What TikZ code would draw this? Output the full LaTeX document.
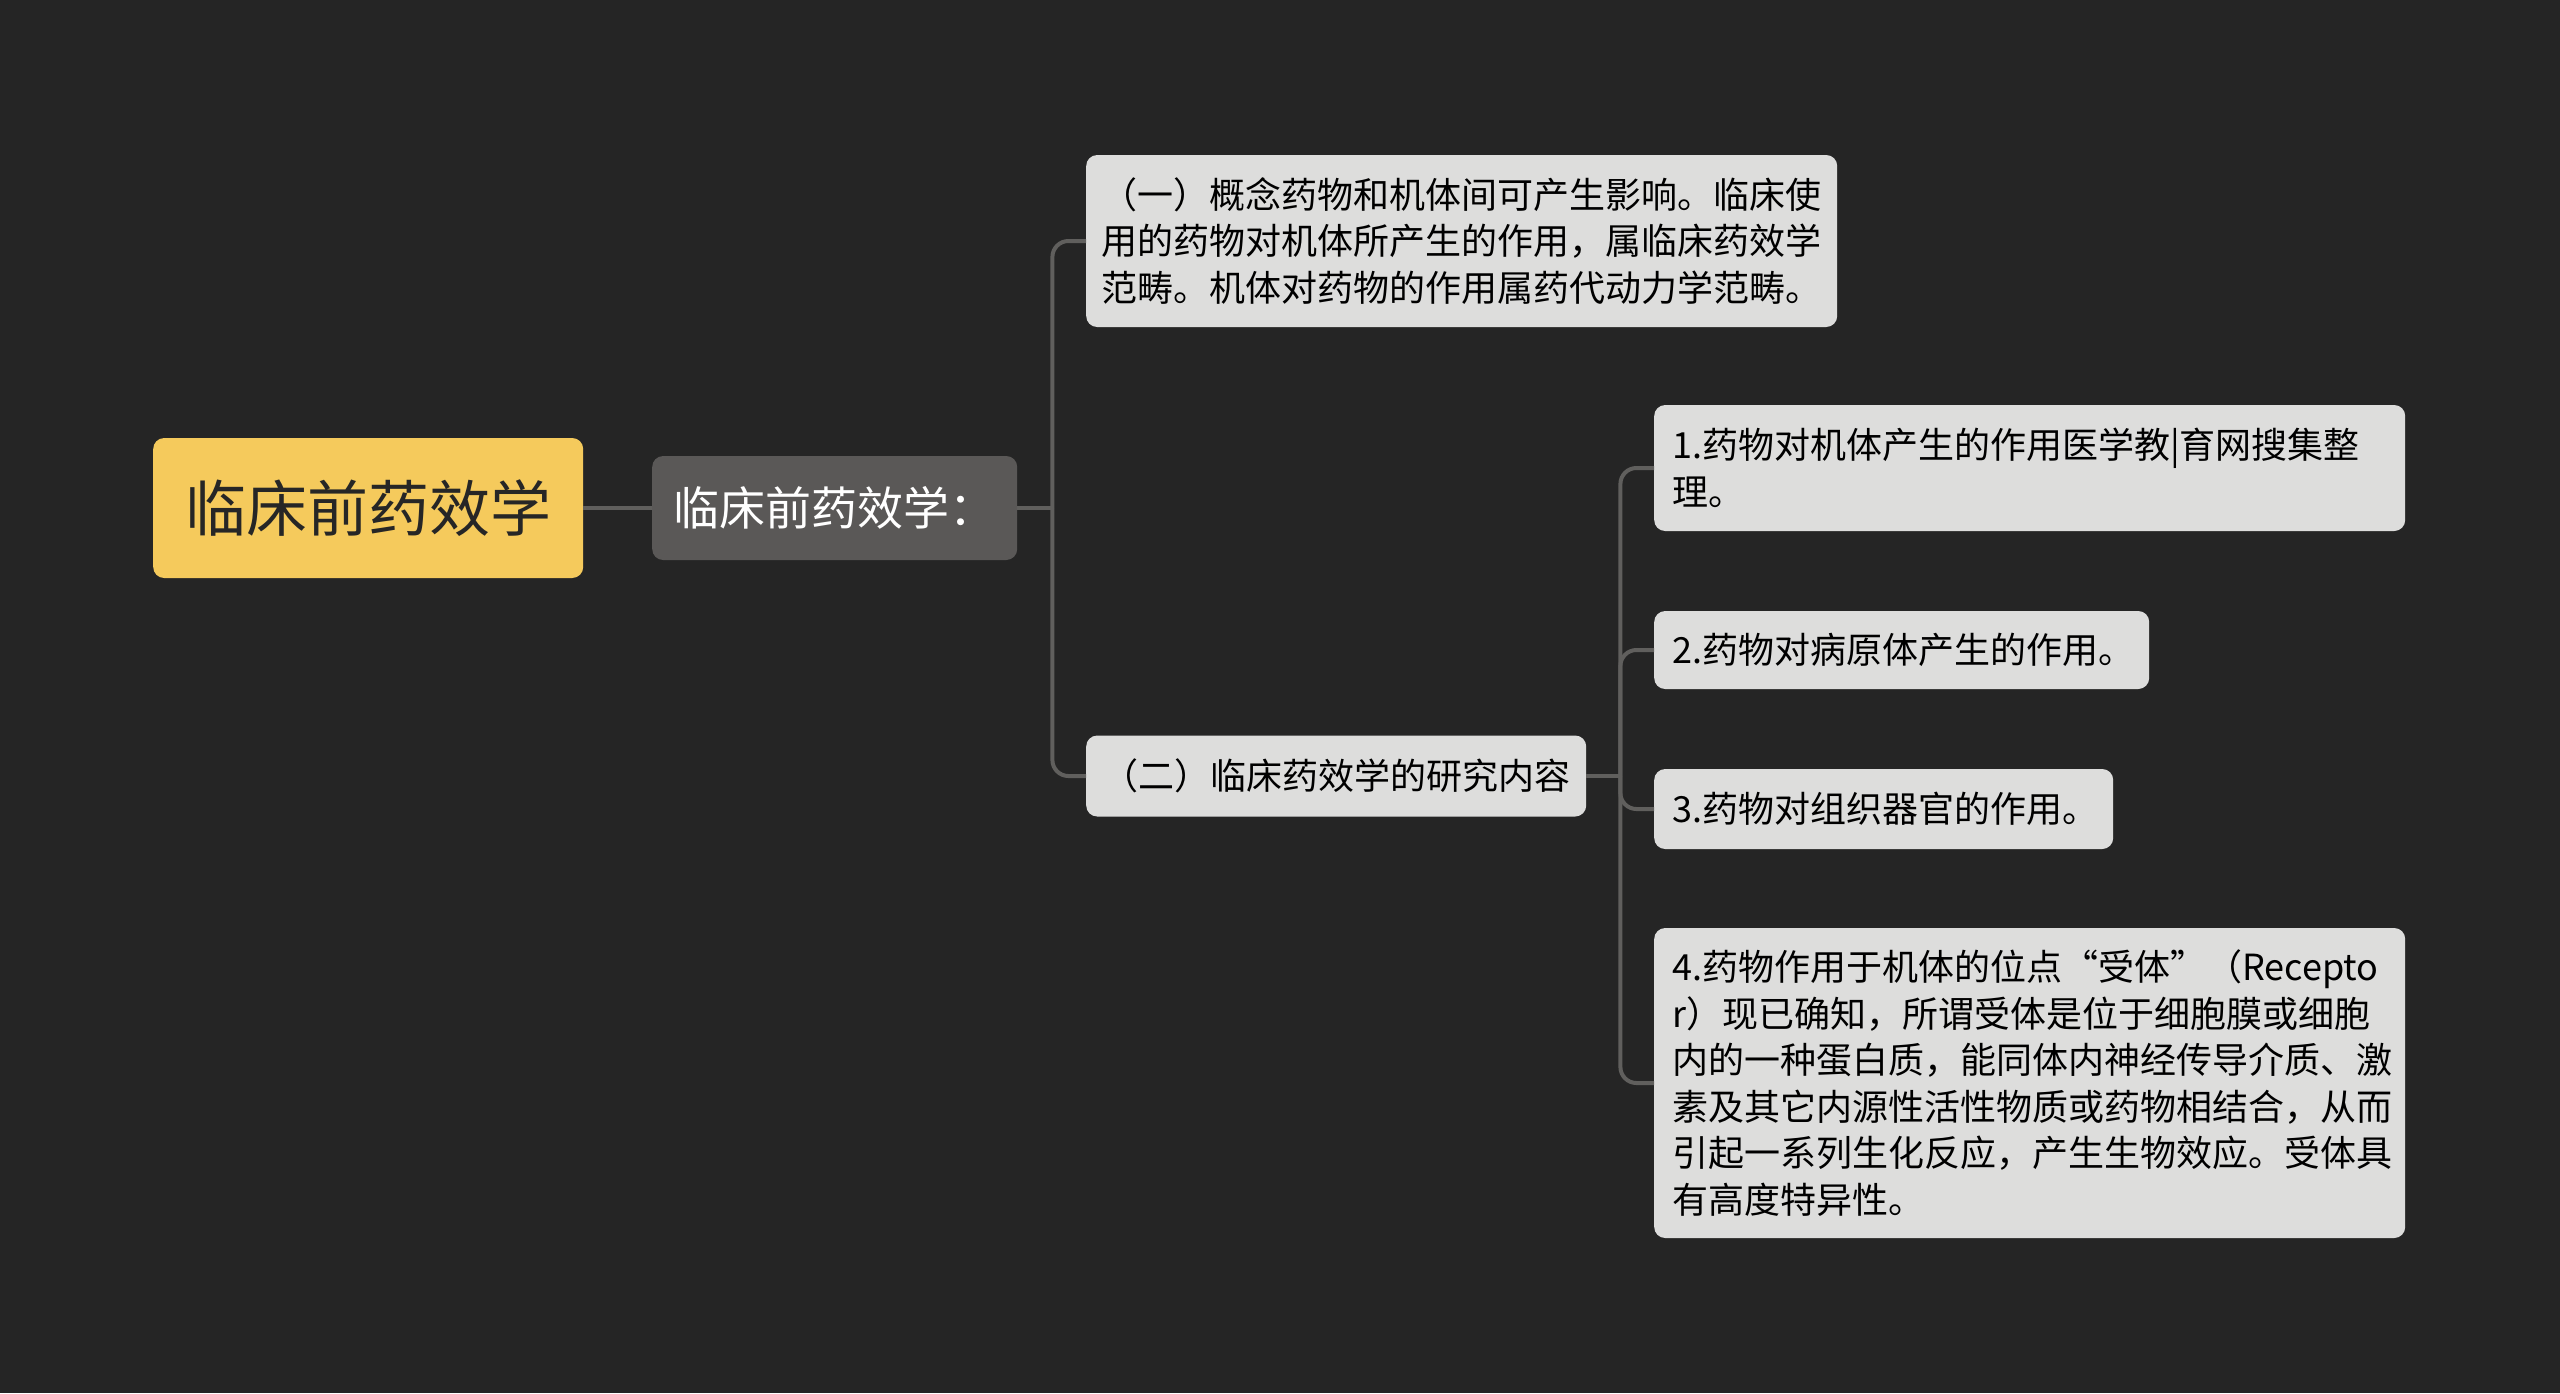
\documentclass[tikz,border=0pt]{standalone}
\usepackage{fontspec}
\setmainfont{Noto Sans CJK SC}
\definecolor{bgcol}{HTML}{252525}
\definecolor{linecol}{HTML}{605F5D}
\definecolor{rootcol}{HTML}{F5CA5C}
\definecolor{subcol}{HTML}{5A5857}
\definecolor{leafcol}{HTML}{DDDDDC}
\begin{document}
\begin{tikzpicture}[x=1pt,y=-1pt,
    box/.style={rounded corners=11pt,anchor=west,inner ysep=0pt},
    leaf/.style={box,fill=leafcol,text=black,align=left,inner xsep=18pt,
      font=\fontsize{36}{46.5}\selectfont},
    branch/.style={draw=linecol,line width=4pt,rounded corners=16pt}]
  \fill[bgcol] (0,0) rectangle (2560,1393);
  \useasboundingbox (0,0) rectangle (2560,1393);
  % main nodes
  \node[box,fill=rootcol,text=black!85,minimum width=430pt,minimum height=140pt,
    font=\fontsize{61}{70}\selectfont] (root) at (153,508) {临床前药效学};
  \node[box,fill=subcol,text=white,minimum width=365pt,minimum height=104pt,
    font=\fontsize{46}{54}\selectfont] (sub) at (652,508) {临床前药效学：};
  \node[leaf,inner xsep=15pt,text width=721pt,minimum height=172pt] (c1) at (1086,241)
    {（一）概念药物和机体间可产生影响。临床使\\用的药物对机体所产生的作用，属临床药效学\\范畴。机体对药物的作用属药代动力学范畴。};
  \node[leaf,inner xsep=16pt,text width=468pt,minimum height=81pt] (c2) at (1086,776)
    {（二）临床药效学的研究内容};
  % leaves
  \node[leaf,text width=715pt,minimum height=126pt] (l1) at (1654,468)
    {1.药物对机体产生的作用医学教|育网搜集整\\理。};
  \node[leaf,text width=459pt,minimum height=78pt] (l2) at (1654,650)
    {2.药物对病原体产生的作用。};
  \node[leaf,text width=423pt,minimum height=80pt] (l3) at (1654,809)
    {3.药物对组织器官的作用。};
  \node[leaf,text width=715pt,minimum height=310pt] (l4) at (1654,1083)
    {4.药物作用于机体的位点“受体”（Recepto\\r）现已确知，所谓受体是位于细胞膜或细胞\\内的一种蛋白质，能同体内神经传导介质、激\\素及其它内源性活性物质或药物相结合，从而\\引起一系列生化反应，产生生物效应。受体具\\有高度特异性。};
  % connectors
  \draw[branch] (root.east) -- (sub.west);
  \coordinate (j1) at ([xshift=35pt]sub.east);
  \draw[branch] (sub.east) -- (j1);
  \foreach \n in {c1,c2}
    \draw[branch] (j1) |- (\n.west);
  \coordinate (j2) at ([xshift=34pt]c2.east);
  \draw[branch] (c2.east) -- (j2);
  \foreach \n in {l1,l2,l3,l4}
    \draw[branch] (j2) |- (\n.west);
\end{tikzpicture}
\end{document}
